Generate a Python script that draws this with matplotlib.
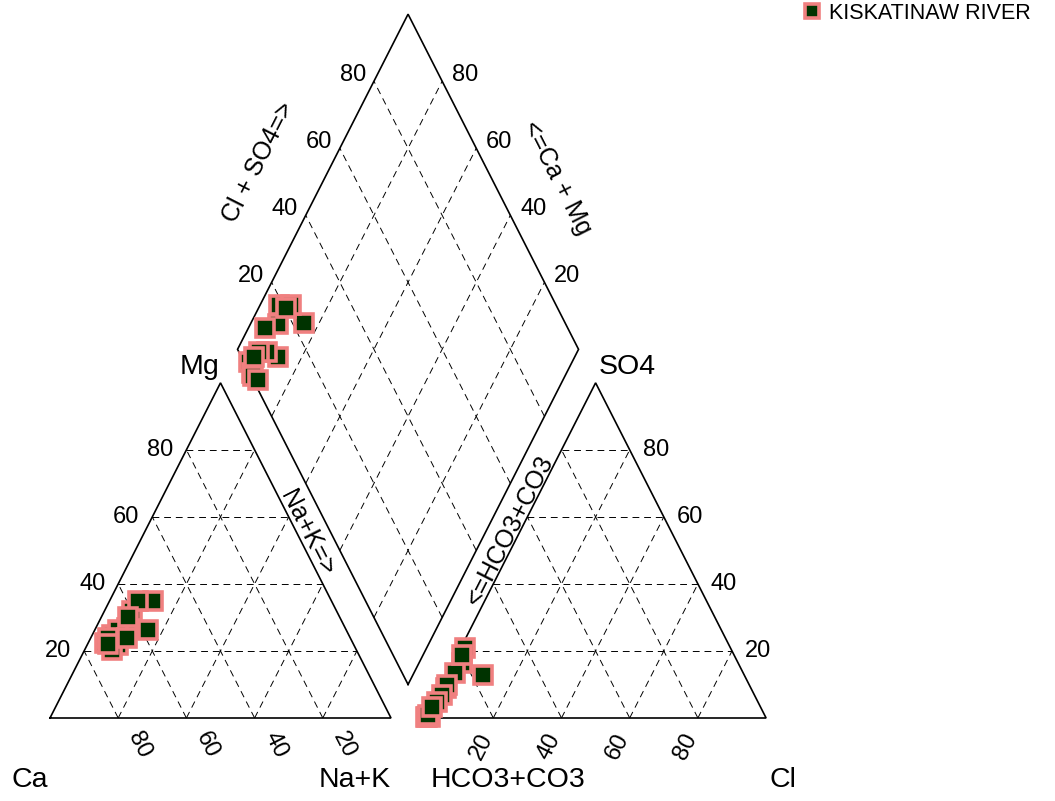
import numpy as np
import matplotlib
matplotlib.use("Agg")
import matplotlib.pyplot as plt
from matplotlib.lines import Line2D

plt.rcParams['font.family'] = ['Liberation Sans', 'DejaVu Sans']

# ---------------- data (percent of milliequivalents) ----------------
series_name = "KISKATINAW RIVER"
mg_pct  = [26.4, 34.9, 24.9, 26.9, 31.9, 22.4, 21.9, 26.4, 23.9, 20.4, 34.9, 24.0, 30.0, 22.0]
nak_pct = [15.6, 12.9,  5.7,  9.1,  8.0,  4.9,  9.1,  6.8,  5.2,  7.9,  8.5, 10.5,  8.0,  6.0]
so4_pct = [12.9,  9.0, 16.4, 20.9, 13.4,  9.8,  6.9,  4.9,  0.3,  0.3,  0.4,  0.8, 18.9,  3.4]
cl_pct  = [10.5,  1.6,  2.5,  1.3,  2.2,  1.5,  1.5,  1.0,  1.2,  0.4,  0.2,  0.5,  1.3,  0.3]
tick_values = [20, 40, 60, 80]

# ---------------- geometry ----------------
H = np.sqrt(3) / 2
GAP = 10.0
AX0 = 100 + GAP
SX, SY = 3.41, 3.87       # pixels per unit
X0PX, Y0PX = 50, 718

def px(x, y):
    return (x - X0PX) / SX, (Y0PX - y) / SY

def cation_xy(mg, nak):
    mg = np.asarray(mg, float); nak = np.asarray(nak, float)
    return nak + mg / 2, mg * H

def anion_xy(so4, cl):
    so4 = np.asarray(so4, float); cl = np.asarray(cl, float)
    return AX0 + cl + so4 / 2, so4 * H

BX, BY = 100 + GAP / 2, GAP / 2 * np.sqrt(3)

def diamond_xy(c, s):
    c = np.asarray(c, float); s = np.asarray(s, float)
    return BX + (s - c) / 2, BY + H * (c + s)

fig = plt.figure(figsize=(10.55, 8.01), dpi=100)
ax = fig.add_axes([0, 0, 1, 1])
ax.set_xlim(px(0, 0)[0], px(1055, 0)[0])
ax.set_ylim(px(0, 801)[1], px(0, 0)[1])
ax.axis('off')

solid = dict(color='black', lw=1.2, solid_joinstyle='miter', zorder=2)
dash = dict(color='black', lw=0.7, linestyle=(0, (7, 5)), zorder=1)

# triangles
for x0 in (0, AX0):
    ax.plot([x0, x0 + 100, x0 + 50, x0], [0, 0, 100 * H, 0], **solid)
    for k in tick_values:
        ax.plot([x0 + k / 2, x0 + 100 - k / 2], [k * H, k * H], **dash)
        ax.plot([x0 + k, x0 + k + (100 - k) / 2], [0, (100 - k) * H], **dash)
        ax.plot([x0 + 100 - k, x0 + (100 - k) / 2], [0, (100 - k) * H], **dash)

# diamond
dxs, dys = diamond_xy([0, 100, 100, 0, 0], [0, 0, 100, 100, 0])
ax.plot(dxs, dys, **solid)
for k in tick_values:
    lx, ly = diamond_xy([k, k], [0, 100])
    ax.plot(lx, ly, **dash)
    lx, ly = diamond_xy([0, 100], [k, k])
    ax.plot(lx, ly, **dash)

# ---------------- tick labels ----------------
tfs = 17
for k in tick_values:
    ex, ey = cation_xy(k, 0)
    ax.text(ex - 26 / SX, ey, str(k), fontsize=tfs, ha='center', va='center')
    ex, ey = anion_xy(k, 100 - k)
    ax.text(ex + 26 / SX, ey, str(k), fontsize=tfs, ha='center', va='center')
    ex, _ = cation_xy(0, 100 - k)
    ax.text(ex + 21 / SX, px(0, 745)[1], str(k), fontsize=tfs, ha='center', va='center', rotation=-63)
    ex, _ = anion_xy(0, k)
    ax.text(ex - 12 / SX, px(0, 747)[1], str(k), fontsize=tfs, ha='center', va='center', rotation=63)
    ex, ey = diamond_xy(100, k)
    ax.text(ex - 21 / SX, ey + 6 / SY, str(k), fontsize=tfs, ha='center', va='center')
    ex, ey = diamond_xy(k, 100)
    ax.text(ex + 23 / SX, ey + 6 / SY, str(k), fontsize=tfs, ha='center', va='center')

# ---------------- axis titles ----------------
cfs = 20.5
for label, (x, y) in [("Ca", (30, 780)), ("Na+K", (355, 780)), ("HCO3+CO3", (508, 780)),
                      ("Cl", (783, 780)), ("Mg", (200, 367)), ("SO4", (627, 367))]:
    ax.text(*px(x, y), label, fontsize=cfs, ha='center', va='center')

afs = 18
for label, (x, y), rot in [("Cl + SO4=>", (259, 162), 63), ("<=Ca + Mg", (557, 178), -63),
                           ("Na+K=>", (307, 533), -63), ("<=HCO3+CO3", (510, 530), 63)]:
    ax.text(*px(x, y), label, fontsize=afs, ha='center', va='center', rotation=rot)

# ---------------- points ----------------
mk = dict(marker='s', linestyle='none', markersize=12.5, markerfacecolor='#003300',
          markeredgecolor='#F08080', markeredgewidth=2.6, zorder=5)
mg = np.array(mg_pct); nak = np.array(nak_pct)
so4 = np.array(so4_pct); cl = np.array(cl_pct)
cx, cy = cation_xy(mg, nak)
axx, ayy = anion_xy(so4, cl)
ddx, ddy = diamond_xy(100 - nak, so4 + cl)
for i in range(len(mg)):
    ax.plot([cx[i]], [cy[i]], **mk)
    ax.plot([axx[i]], [ayy[i]], **mk)
    ax.plot([ddx[i]], [ddy[i]], **mk)

handle = Line2D([], [], **mk)
leg = ax.legend([handle], [series_name], loc='upper left',
                bbox_to_anchor=(804 / 1055, 1 - 3 / 801), frameon=False,
                fontsize=15.5, markerscale=0.8, handlelength=0.7, handletextpad=0.45,
                borderpad=0, borderaxespad=0)

fig.savefig("out.png", dpi=100)
